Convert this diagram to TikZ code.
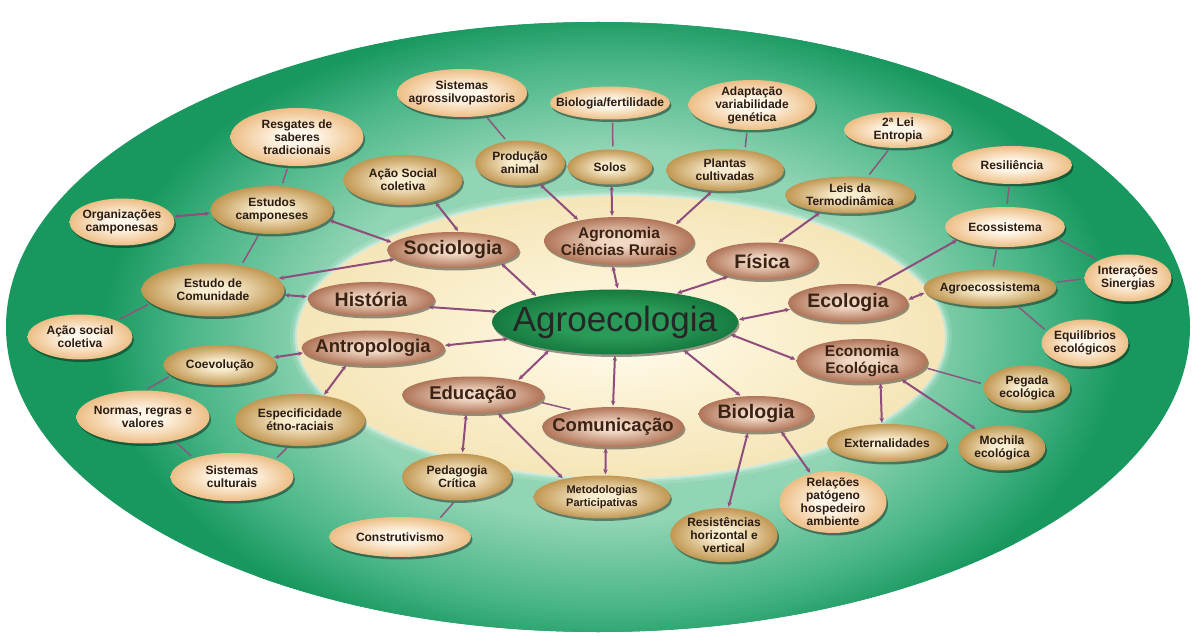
\documentclass[tikz,border=0pt]{standalone}
\usepackage{fontspec}
\setmainfont{Liberation Sans}
\usetikzlibrary{shapes.geometric,shadows,arrows.meta}
\definecolor{gdark}{HTML}{18985F}
\definecolor{gmid}{HTML}{4AB687}
\definecolor{glight}{HTML}{92D5B5}
\definecolor{crin}{HTML}{FFFCEF}
\definecolor{crmid}{HTML}{FBF1D2}
\definecolor{crout}{HTML}{F5E5B8}
\definecolor{peachin}{HTML}{FFF7EA}
\definecolor{peachout}{HTML}{EDBE86}
\definecolor{goldin}{HTML}{F9EDCF}
\definecolor{goldout}{HTML}{C19752}
\definecolor{brin}{HTML}{F1D8C4}
\definecolor{brout}{HTML}{B07458}
\definecolor{agin}{HTML}{2A9A58}
\definecolor{agout}{HTML}{167A3F}
\definecolor{linec}{HTML}{8F4D7D}
\definecolor{txtc}{HTML}{2A1C12}
\definecolor{txtb}{HTML}{3A2214}
\pgfdeclareradialshading{glowsh}{\pgfpoint{0bp}{0bp}}{color(0bp)=(glight); color(14bp)=(glight); color(20.5bp)=(gmid); color(24.5bp)=(gdark); color(50bp)=(gdark)}
\pgfdeclareradialshading{creamsh}{\pgfpoint{0bp}{0bp}}{color(0bp)=(crin); color(11bp)=(crmid); color(25bp)=(crout); color(50bp)=(crout)}
\pgfdeclareradialshading{peachsh}{\pgfpoint{0bp}{0bp}}{color(0bp)=(peachin); color(7bp)=(peachin); color(25bp)=(peachout); color(50bp)=(peachout)}
\pgfdeclareradialshading{goldsh}{\pgfpoint{0bp}{0bp}}{color(0bp)=(goldin); color(6bp)=(goldin); color(25bp)=(goldout); color(50bp)=(goldout)}
\pgfdeclareradialshading{brownsh}{\pgfpoint{0bp}{0bp}}{color(0bp)=(brin); color(6bp)=(brin); color(25bp)=(brout); color(50bp)=(brout)}
\pgfdeclareradialshading{agsh}{\pgfpoint{0bp}{0bp}}{color(0bp)=(agin); color(12bp)=(agin); color(25bp)=(agout); color(50bp)=(agout)}
\newcommand{\bubnode}[7]{\node[#1, minimum width=#4pt, minimum height=#5pt, label={[#6]center:{#7}}] (#2) at (#3) {};}
\tikzset{
  bub/.style={ellipse, inner sep=0pt, drop shadow={shadow xshift=1.5pt, shadow yshift=-2.5pt, opacity=0.4, fill=black}},
  peach/.style={bub, shading=peachsh},
  gold/.style={bub, shading=goldsh},
  brown/.style={bub, shading=brownsh},
  agn/.style={bub, shading=agsh},
  lbs/.style={inner sep=0pt, align=center, text=txtc, font=\bfseries\fontsize{12}{13}\selectfont},
  lbt/.style={inner sep=0pt, align=center, text=txtc, font=\bfseries\fontsize{11}{12.5}\selectfont},
  lbm/.style={inner sep=0pt, align=center, text=txtb, font=\bfseries\fontsize{15.5}{17}\selectfont},
  lbk/.style={inner sep=0pt, align=center, text=txtb, font=\bfseries\fontsize{18.5}{20}\selectfont},
  lbl/.style={inner sep=0pt, align=center, text=txtb, font=\bfseries\fontsize{19.5}{21}\selectfont},
  lbx/.style={inner sep=0pt, align=center, text=black!85, font=\fontsize{35}{38}\selectfont},
  conn/.style={draw=linec, line width=2pt, >={Stealth[length=5pt,width=4.5pt]}, <->, shorten <=1pt, shorten >=1pt},
  link/.style={draw=linec!80!gray, line width=1.5pt, shorten <=3pt, shorten >=3pt},
  halo/.style={draw=white, line width=#1},
}
\begin{document}
\begin{tikzpicture}[x=1pt,y=-1pt]
\useasboundingbox (0,0) rectangle (1197,636);
\fill[white] (0,0) rectangle (1197,636);
% background
\fill[gdark] (598,327) ellipse [x radius=592, y radius=305];
\begin{scope}
  \clip (598,327) ellipse [x radius=592, y radius=305];
  \shade[shading=glowsh] (612,335) ellipse [x radius=520, y radius=330];
\end{scope}
\draw[halo=14pt, opacity=0.12] (621,337) ellipse [x radius=324, y radius=141];
\draw[halo=8pt, opacity=0.2] (621,337) ellipse [x radius=324, y radius=141];
\draw[halo=4pt, opacity=0.35] (621,337) ellipse [x radius=324, y radius=141];
\shade[shading=creamsh] (621,337) ellipse [x radius=324, y radius=141];

% centre
\bubnode{agn}{agro}{615,322}{246}{65}{lbx}{Agroecologia}
% first ring
\bubnode{brown}{soc}{453,250}{132}{36}{lbl}{Sociologia}
\bubnode{brown}{agron}{619,241}{150}{48}{lbm}{Agronomia\\Ciências Rurais}
\bubnode{brown}{fis}{762,261}{112}{37}{lbl}{Física}
\bubnode{brown}{eco}{848,303}{120}{38}{lbl}{Ecologia}
\bubnode{brown}{econ}{862,361}{131}{44}{lbm}{Economia\\Ecológica}
\bubnode{brown}{bio}{756,414}{115}{36}{lbl}{Biologia}
\bubnode{brown}{com}{613,427}{142}{40}{lbk}{Comunicação}
\bubnode{brown}{edu}{473,395}{142}{37}{lbk}{Educação}
\bubnode{brown}{ant}{373,348}{143}{35}{lbk}{Antropologia}
\bubnode{brown}{hist}{371,299}{127}{34}{lbl}{História}
% outer nodes
\bubnode{peach}{resg}{297,137}{133}{58}{lbs}{Resgates de\\saberes\\tradicionais}
\bubnode{gold}{acaoS}{403,180}{119}{50}{lbs}{Ação Social\\coletiva}
\bubnode{gold}{estc}{272,210}{123}{48}{lbs}{Estudos\\camponeses}
\bubnode{peach}{org}{122,222}{105}{47}{lbs}{Organizações\\camponesas}
\bubnode{gold}{comun}{213,290}{143}{53}{lbs}{Estudo de\\Comunidade}
\bubnode{peach}{acaos}{80,337}{105}{45}{lbs}{Ação social\\coletiva}
\bubnode{gold}{coev}{220,365}{113}{40}{lbs}{Coevolução}
\bubnode{peach}{normas}{143,417}{133}{53}{lbs}{Normas, regras e\\valores}
\bubnode{gold}{espec}{300,420}{130}{52}{lbs}{Especificidade\\étno-raciais}
\bubnode{peach}{sistc}{232,477}{123}{48}{lbs}{Sistemas\\culturais}
\bubnode{gold}{ped}{457,477}{110}{47}{lbs}{Pedagogia\\Crítica}
\bubnode{peach}{constr}{400,537}{142}{40}{lbs}{Construtivismo}
\bubnode{gold}{metod}{602,497}{137}{43}{lbt}{Metodologias\\Participativas}
\bubnode{gold}{resist}{724,535}{107}{54}{lbs}{Resistências\\horizontal e\\vertical}
\bubnode{peach}{relac}{833,502}{107}{62}{lbs}{Relações\\patógeno\\hospedeiro\\ambiente}
\bubnode{gold}{extern}{887,443}{120}{38}{lbs}{Externalidades}
\bubnode{gold}{moch}{1002,448}{87}{45}{lbs}{Mochila\\ecológica}
\bubnode{gold}{pegada}{1027,388}{87}{45}{lbs}{Pegada\\ecológica}
\bubnode{peach}{equil}{1085,343}{87}{47}{lbs}{Equilíbrios\\ecológicos}
\bubnode{gold}{agroeco}{990,288}{133}{37}{lbs}{Agroecossistema}
\bubnode{peach}{inter}{1128,278}{87}{47}{lbs}{Interações\\Sinergias}
\bubnode{peach}{ecos}{1005,227}{120}{40}{lbs}{Ecossistema}
\bubnode{peach}{resil}{1012,165}{120}{38}{lbs}{Resiliência}
\bubnode{gold}{leis}{850,195}{130}{37}{lbs}{Leis da\\Termodinâmica}
\bubnode{peach}{lei2}{898,130}{108}{36}{lbs}{2ª Lei\\Entropia}
\bubnode{peach}{sistag}{462,93}{130}{48}{lbs}{Sistemas\\agrossilvopastoris}
\bubnode{peach}{biof}{610,103}{120}{33}{lbs}{Biologia/fertilidade}
\bubnode{peach}{adapt}{752,105}{127}{50}{lbs}{Adaptação\\variabilidade\\genética}
\bubnode{gold}{prod}{520,163}{90}{45}{lbs}{Produção\\animal}
\bubnode{gold}{solos}{610,167}{85}{35}{lbs}{Solos}
\bubnode{gold}{plantas}{725,170}{118}{42}{lbs}{Plantas\\cultivadas}

% connectors
\draw[conn] (soc.-15) -- (agro.162);
\draw[conn] (agron.-105) -- (agro.85);
\draw[conn] (fis.-155) -- (agro.25);
\draw[conn] (eco.-174) -- (agro.1);
\draw[conn] (econ.179) -- (agro.-6);
\draw[conn] (bio.130) -- (agro.-22);
\draw[conn] (com.90) -- (agro.-90);
\draw[conn] (edu.18) -- (agro.-157);
\draw[conn] (ant.2) -- (agro.-171);
\draw[conn] (hist.-8) -- (agro.175);
\draw[link] (edu.-6) -- (com.157);
\draw[conn] (edu.-36) -- (metod.155);
\draw[conn] (com.-110) -- (metod.81);
\draw[conn] (edu.-110) -- (ped.77);
\draw[link] (ped.-94) -- (constr.24);
\draw[conn] (bio.-114) -- (resist.81);
\draw[conn] (bio.-34) -- (relac.128);
\draw[conn] (econ.-49) -- (extern.105);
\draw[conn] (econ.-25) -- (moch.144);
\draw[link] (econ.-6) -- (pegada.175);
\draw[conn] (eco.3) -- (agroeco.184);
\draw[conn] (eco.32) -- (ecos.-165);
\draw[link] (ecos.-112) -- (agroeco.82);
\draw[link] (ecos.85) -- (resil.-98);
\draw[link] (ecos.-12) -- (inter.149);
\draw[link] (agroeco.5) -- (inter.-179);
\draw[link] (agroeco.-33) -- (equil.163);
\draw[conn] (fis.49) -- (leis.-150);
\draw[link] (leis.46) -- (lei2.-114);
\draw[conn] (agron.153) -- (prod.-47);
\draw[conn] (agron.106) -- (solos.-85);
\draw[conn] (agron.16) -- (plantas.-121);
\draw[link] (prod.121) -- (sistag.-44);
\draw[link] (solos.81) -- (biof.-81);
\draw[link] (plantas.45) -- (adapt.-101);
\draw[conn] (soc.72) -- (acaoS.-34);
\draw[conn] (soc.173) -- (estc.-10);
\draw[conn] (soc.-171) -- (comun.10);
\draw[conn] (hist.178) -- (comun.-4);
\draw[link] (estc.68) -- (resg.-107);
\draw[conn] (estc.-177) -- (org.6);
\draw[link] (estc.-118) -- (comun.41);
\draw[link] (comun.-168) -- (acaos.24);
\draw[conn] (ant.-176) -- (coev.8);
\draw[conn] (ant.-148) -- (espec.46);
\draw[link] (coev.-168) -- (normas.86);
\draw[link] (normas.-37) -- (sistc.154);
\draw[link] (espec.-113) -- (sistc.22);
\end{tikzpicture}
\end{document}
